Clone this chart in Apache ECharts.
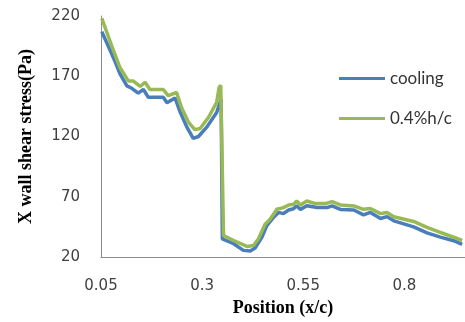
<!DOCTYPE html>
<html>
<head>
<meta charset="utf-8">
<script src="https://cdn.jsdelivr.net/npm/echarts@6/dist/echarts.min.js"></script>
<style>
  html, body { margin: 0; padding: 0; background: #fff; }
  #main { width: 465px; height: 322px; }
</style>
</head>
<body>
<div id="main"></div>
<script>
// x/c positions and wall shear stress (Pa)
var posCooling = [0.052, 0.072, 0.085, 0.097, 0.114, 0.126, 0.142, 0.155, 0.167, 0.204, 0.213, 0.233, 0.246, 0.262, 0.278, 0.291, 0.312, 0.336, 0.344, 0.347, 0.350, 0.378, 0.402, 0.419, 0.431, 0.448, 0.460, 0.477, 0.489, 0.501, 0.514, 0.526, 0.534, 0.543, 0.559, 0.584, 0.609, 0.621, 0.642, 0.675, 0.699, 0.716, 0.741, 0.757, 0.774, 0.823, 0.856, 0.889, 0.922, 0.943];
var wssCooling = [207, 192, 182, 172, 162, 160, 156, 159, 152.5, 152.5, 148, 152, 140, 128, 118.5, 120, 128, 140, 148, 151, 35, 31, 25.5, 25, 27.5, 36.5, 46, 53, 57, 56, 59, 60, 62.5, 59.5, 62.5, 61, 61, 62.5, 59.5, 59, 55, 57, 52, 53.5, 50, 45, 40, 36.5, 33.5, 30.5];

var posHc = [0.052, 0.080, 0.097, 0.118, 0.130, 0.147, 0.159, 0.171, 0.204, 0.216, 0.237, 0.249, 0.266, 0.282, 0.295, 0.316, 0.336, 0.342, 0.346, 0.353, 0.378, 0.411, 0.427, 0.439, 0.456, 0.468, 0.485, 0.501, 0.514, 0.526, 0.534, 0.543, 0.559, 0.580, 0.605, 0.621, 0.642, 0.675, 0.699, 0.716, 0.741, 0.757, 0.774, 0.823, 0.856, 0.889, 0.922, 0.943];
var wssHc = [218, 192, 177, 166, 166, 161.5, 165, 159, 159, 154, 156.5, 144, 132, 125.7, 126.6, 136, 148.4, 160.7, 162.6, 37.8, 33.7, 28.8, 29.6, 35, 47.3, 51.4, 59.6, 61, 63.2, 63.7, 66.5, 63.2, 66.5, 64.3, 64.3, 66, 63.2, 62.4, 59.6, 60.2, 56, 57, 53.4, 49.5, 44.6, 40.5, 36.4, 33.7];

var xTicks = [0.05, 0.3, 0.55, 0.8];
var yTicks = [20, 70, 120, 170, 220];

function pairs(xs, ys) {
    return xs.map(function (x, i) { return [x, ys[i]]; });
}

var labelStyle = { fontFamily: 'DejaVu Sans', fontSize: 15, color: '#404040' };
var titleStyle = { fontFamily: 'Liberation Serif', fontWeight: 'bold', fontSize: 18, color: '#000' };

var chart = echarts.init(document.getElementById('main'));
chart.setOption({
    animation: false,
    backgroundColor: '#fff',
    grid: { left: 101, right: 0, top: 16, bottom: 62 },
    legend: {
        orient: 'vertical',
        left: 334,
        top: 65,
        itemGap: 23,
        icon: 'rect',
        itemWidth: 46,
        itemHeight: 3,
        textStyle: { fontFamily: 'Lato', fontSize: 17, color: '#333' },
        data: ['cooling', '0.4%h/c']
    },
    xAxis: {
        type: 'value',
        min: 0.05,
        max: 0.95,
        name: 'Position (x/c)',
        nameLocation: 'middle',
        nameGap: 42,
        nameTextStyle: titleStyle,
        axisLine: { lineStyle: { color: '#8c8c8c' } },
        axisTick: { show: false },
        splitLine: { show: false },
        axisLabel: Object.assign({ customValues: xTicks, margin: 22 }, labelStyle)
    },
    yAxis: {
        type: 'value',
        min: 20,
        max: 220,
        name: 'X wall shear stress(Pa)',
        nameLocation: 'middle',
        nameGap: 66,
        nameTextStyle: titleStyle,
        axisLine: { show: true, lineStyle: { color: '#8c8c8c' } },
        axisTick: { show: false },
        splitLine: { show: false },
        axisLabel: Object.assign({ customValues: yTicks, margin: 21 }, labelStyle)
    },
    series: [
        {
            name: 'cooling',
            type: 'line',
            symbol: 'none',
            data: pairs(posCooling, wssCooling),
            lineStyle: { color: '#4a7ebb', width: 3.5 },
            itemStyle: { color: '#4a7ebb' }
        },
        {
            name: '0.4%h/c',
            type: 'line',
            symbol: 'none',
            data: pairs(posHc, wssHc),
            lineStyle: { color: '#98b954', width: 3.5 },
            itemStyle: { color: '#98b954' }
        }
    ]
});
</script>
</body>
</html>
